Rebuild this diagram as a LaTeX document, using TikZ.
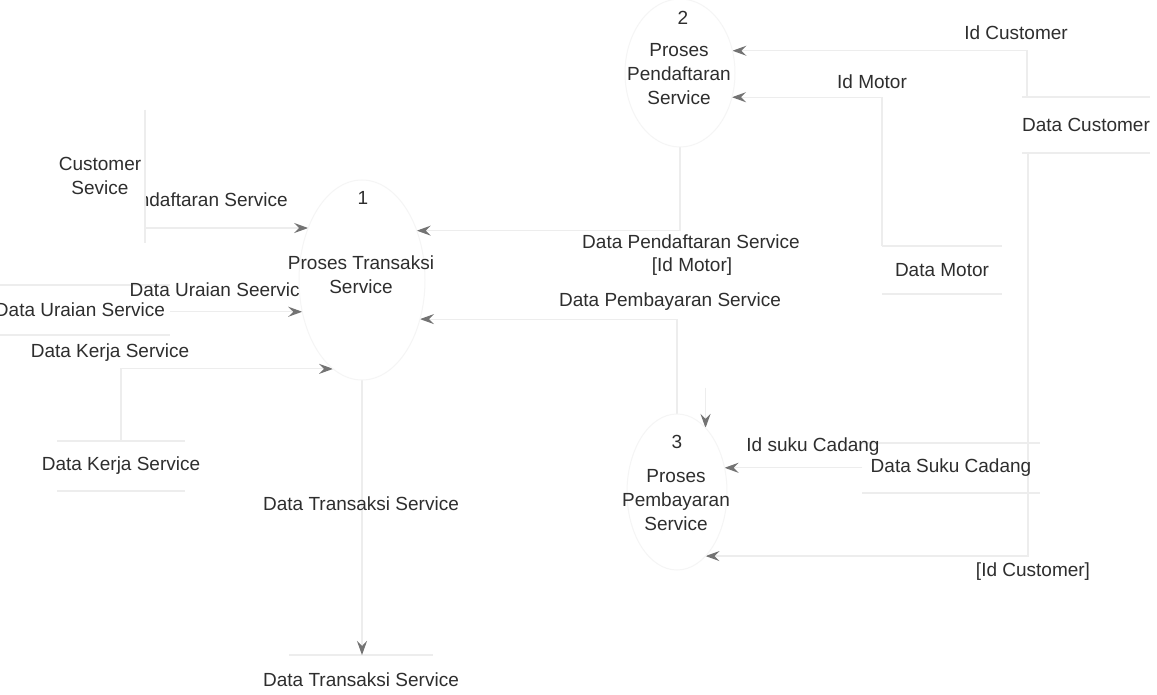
\documentclass[tikz,border=0pt]{standalone}
\usepackage{fontspec}
\setmainfont{Liberation Sans}
\usetikzlibrary{arrows.meta,shapes.geometric,calc}
\pgfdeclarelayer{bg}
\pgfsetlayers{bg,main}

% top and bottom rules of an open data store, centred on a node
\newcommand\storelines[3]{%
  \draw[wire] ([xshift=-#2pt,yshift=#3pt]#1.center) -- ([xshift=#2pt,yshift=#3pt]#1.center)
              ([xshift=-#2pt,yshift=-#3pt]#1.center) -- ([xshift=#2pt,yshift=-#3pt]#1.center);}

\begin{document}
\begin{tikzpicture}[x=1pt,y=-1pt,
  every node/.style={font=\fontsize{19}{24}\selectfont, text=black!82, inner sep=0pt, align=center},
  wire/.style={draw=black!7, line width=1.2pt},
  flow/.style={wire, -{Stealth[length=14pt,width=10pt,inset=5pt,color=black!55]}},
  proc/.style={ellipse, draw=black!4, line width=1pt, fill=white, outer sep=0pt},
  entity/.style={fill=white, outer sep=0pt}
]
\begin{pgfonlayer}{bg}
  \fill[white] (0,0) rectangle (1157,695);
\end{pgfonlayer}
\useasboundingbox (0,0) rectangle (1157,695);

% flow labels that the shapes partly hide
\node (lCust) at (179,200) {Data Pendaftaran Service};
\node (lUrai) at (220,290) {Data Uraian Seervice};

% external entity
\node[entity, minimum width=90pt, minimum height=133pt] (cust) at (100,176.5) {};
\node (custTxt) at (100,176) {Customer\\Sevice};
\draw[wire] (cust.north east) -- (cust.south east);

% processes
\node[proc, minimum width=126pt, minimum height=200pt] (p1) at (362,280) {};
\node[proc, minimum width=110pt, minimum height=148pt] (p2) at (680,73) {};
\node[proc, minimum width=100pt, minimum height=156pt] (p3) at (677,492) {};

\node (p1num) at (363,198) {1};
\node (p1txt) at (361,275) {Proses Transaksi\\Service};
\node (p2num) at (683,18) {2};
\node (p2txt) at (679,74) {Proses\\Pendaftaran\\Service};
\node (p3num) at (677,442) {3};
\node (p3txt) at (676,500) {Proses\\Pembayaran\\Service};

% data stores
\node (dus) at (80,310) {Data Uraian Service};
\node (dks) at (121,466) {Data Kerja Service};
\node (dts) at (361,680) {Data Transaksi Service};
\node (dmotor) at (942,270) {Data Motor};
\node (dcust) at (1086,125) {Data Customer};
\node (dsc) at (951,468) {Data Suku Cadang};

\coordinate (dusR) at ([xshift=90pt]dus.center);
\coordinate (dksTop) at ([yshift=25pt]dks.center);
\coordinate (dtsTop) at ([yshift=25pt]dts.center);
\coordinate (dmotorTL) at ([xshift=-60pt,yshift=24pt]dmotor.center);
\coordinate (dcustTL) at ([xshift=-59pt,yshift=28pt]dcust.center);
\coordinate (dcustBL) at ([xshift=-58pt,yshift=-28pt]dcust.center);
\coordinate (dscL) at ([xshift=-89pt]dsc.center);

% store rules and data flows, kept under the texts
\begin{pgfonlayer}{bg}
  \storelines{dus}{90}{25}
  \storelines{dks}{64}{25}
  \storelines{dts}{72}{25}
  \storelines{dmotor}{60}{24}
  \storelines{dcust}{64}{28}
  \storelines{dsc}{89}{25}

  \draw[flow] (cust.east |- p1.136.6) -- (p1.136.6);
  \draw[flow] (dusR |- p1.208.5) -- (p1.208.5);
  \draw[flow] (dksTop) |- (p1.252.1);
  \draw[flow] (p1.south) -- (p1.south |- dtsTop);
  \draw[flow] (p2.south) |- (p1.42.8);
  \draw[flow] (p3.north) |- (p1.326.5);
  \draw[flow] (dcustTL) |- (p2.23.7);
  \draw[flow] (dmotorTL) |- (p2.335.2);
  \draw[flow] (dscL |- p3.27.8) -- (p3.27.8);
  \draw[flow] (dcustBL) |- (p3.294.1);
  \draw[flow] ([yshift=40pt]p3.66.6) -- (p3.66.6);
\end{pgfonlayer}

% flow labels
\node (lPd2) at (691,242) {Data Pendaftaran Service};
\node (lIdm2) at (692,267) {[Id Motor]};
\node (lPb) at (670,302) {Data Pembayaran Service};
\node (lKerja) at (110,353) {Data Kerja Service};
\node (lTrans) at (361,504) {Data Transaksi Service};
\node (lIdc) at (1016,33) {Id Customer};
\node (lIdm) at (872,82) {Id Motor};
\node (lIsc) at (813,447) {Id suku Cadang};
\node (lIdc3) at (1033,572) {[Id Customer]};
\end{tikzpicture}
\end{document}
